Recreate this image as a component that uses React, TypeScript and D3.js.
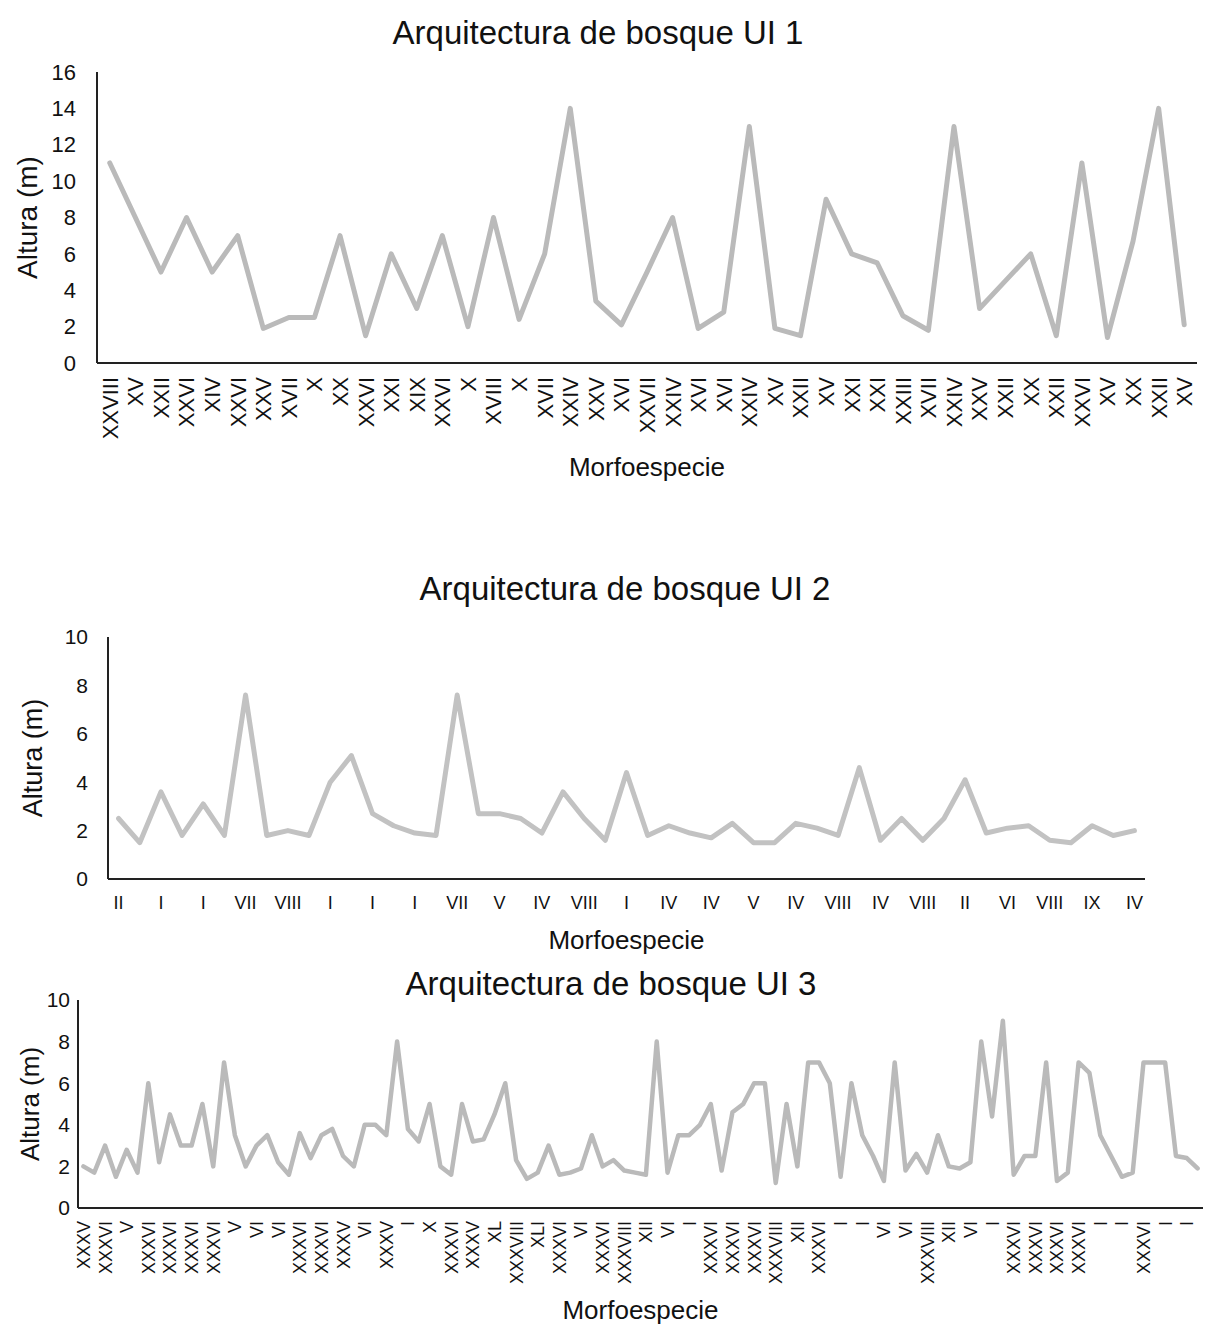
import React from "react";
import { scaleBand, scaleLinear, line, range } from "d3";

// UI 1 – one label per point
const ui1Labels = [
  "XXVIII", "XV", "XXII", "XXVI", "XIV", "XXVI", "XXV", "XVII", "X", "XX",
  "XXVI", "XXI", "XIX", "XXVI", "X", "XVIII", "X", "XVII", "XXIV", "XXV",
  "XVI", "XXVII", "XXIV", "XVI", "XVI", "XXIV", "XV", "XXII", "XV", "XXI",
  "XXI", "XXIII", "XVII", "XXIV", "XXV", "XXII", "XX", "XXII", "XXVI", "XV",
  "XX", "XXII", "XV",
];
const ui1Values = [
  11, 8, 5, 8, 5, 7, 1.9, 2.5, 2.5, 7,
  1.5, 6, 3, 7, 2, 8, 2.4, 6, 14, 3.4,
  2.1, 5, 8, 1.9, 2.8, 13, 1.9, 1.5, 9, 6,
  5.5, 2.6, 1.8, 13, 3, 4.5, 6, 1.5, 11, 1.4,
  6.7, 14, 2.1,
];
const ui1Ticks = [0, 2, 4, 6, 8, 10, 12, 14, 16];

// UI 2 – labels shown on every second point
const ui2Labels = [
  "II", "I", "I", "VII", "VIII", "I", "I", "I", "VII", "V",
  "IV", "VIII", "I", "IV", "IV", "V", "IV", "VIII", "IV", "VIII",
  "II", "VI", "VIII", "IX", "IV",
];
const ui2Values = [
  2.5, 1.5, 3.6, 1.8, 3.1, 1.8, 7.6, 1.8, 2.0, 1.8,
  4.0, 5.1, 2.7, 2.2, 1.9, 1.8, 7.6, 2.7, 2.7, 2.5,
  1.9, 3.6, 2.5, 1.6, 4.4, 1.8, 2.2, 1.9, 1.7, 2.3,
  1.5, 1.5, 2.3, 2.1, 1.8, 4.6, 1.6, 2.5, 1.6, 2.5,
  4.1, 1.9, 2.1, 2.2, 1.6, 1.5, 2.2, 1.8, 2.0,
];
const ui2Ticks = [0, 2, 4, 6, 8, 10];

// UI 3 – labels shown on every second point
const ui3Labels = [
  "XXXV", "XXXVI", "V", "XXXVI", "XXXVI", "XXXVI", "XXXVI", "V", "VI", "VI",
  "XXXVI", "XXXVI", "XXXV", "VI", "XXXV", "I", "X", "XXXVI", "XXXV", "XL",
  "XXXVIII", "XLI", "XXXVI", "VI", "XXXVI", "XXXVIII", "XII", "VI", "I", "XXXVI",
  "XXXVI", "XXXVI", "XXXVIII", "XII", "XXXVI", "I", "I", "VI", "VI", "XXXVIII",
  "XII", "VI", "I", "XXXVI", "XXXVI", "XXXVI", "XXXVI", "I", "I", "XXXVI",
  "I", "I",
];
const ui3Values = [
  2.0, 1.7, 3.0, 1.5, 2.8, 1.7, 6.0, 2.2, 4.5, 3.0,
  3.0, 5.0, 2.0, 7.0, 3.5, 2.0, 3.0, 3.5, 2.2, 1.6,
  3.6, 2.4, 3.5, 3.8, 2.5, 2.0, 4.0, 4.0, 3.5, 8.0,
  3.8, 3.2, 5.0, 2.0, 1.6, 5.0, 3.2, 3.3, 4.5, 6.0,
  2.3, 1.4, 1.7, 3.0, 1.6, 1.7, 1.9, 3.5, 2.0, 2.3,
  1.8, 1.7, 1.6, 8.0, 1.7, 3.5, 3.5, 4.0, 5.0, 1.8,
  4.6, 5.0, 6.0, 6.0, 1.2, 5.0, 2.0, 7.0, 7.0, 6.0,
  1.5, 6.0, 3.5, 2.5, 1.3, 7.0, 1.8, 2.6, 1.7, 3.5,
  2.0, 1.9, 2.2, 8.0, 4.4, 9.0, 1.6, 2.5, 2.5, 7.0,
  1.3, 1.7, 7.0, 6.5, 3.5, 2.5, 1.5, 1.7, 7.0, 7.0,
  7.0, 2.5, 2.4, 1.9,
];
const ui3Ticks = [0, 2, 4, 6, 8, 10];

const FONT = "'Liberation Sans', Arial, Helvetica, sans-serif";
const TEXT = "#111";
const AXIS = "#222";

function LineChart({
  title, values, labels, labelEvery, ticks,
  x0, x1, yTop, yBottom, titleX, titleY,
  tickRight, yTitleX, xTitleY, labelY, rotate,
  labelSize, tickSize, yTitleSize, strokeW, stroke,
}) {
  const xScale = scaleBand()
    .domain(range(values.length).map(String))
    .range([x0, x1]);
  const yScale = scaleLinear()
    .domain([0, ticks[ticks.length - 1]])
    .range([yBottom, yTop]);
  const cx = (i) => xScale(String(i)) + xScale.bandwidth() / 2;

  const path = line()
    .x((d, i) => cx(i))
    .y((d) => yScale(d))(values);

  return (
    <g fontFamily={FONT} fill={TEXT}>
      <text x={titleX} y={titleY} dy="0.35em" textAnchor="middle" fontSize={33}>
        {title}
      </text>

      {/* y tick labels */}
      {ticks.map((t) => (
        <text
          key={t}
          x={tickRight}
          y={yScale(t)}
          dy="0.35em"
          textAnchor="end"
          fontSize={tickSize}
        >
          {t}
        </text>
      ))}

      {/* axis title */}
      <text
        transform={`translate(${yTitleX},${(yTop + yBottom) / 2}) rotate(-90)`}
        dy="0.35em"
        textAnchor="middle"
        fontSize={yTitleSize}
      >
        Altura (m)
      </text>

      {/* category labels */}
      {labels.map((lab, j) => {
        const x = cx(j * labelEvery);
        return rotate ? (
          <text
            key={j}
            transform={`translate(${x},${labelY}) rotate(-90)`}
            dy="0.36em"
            textAnchor="end"
            fontSize={labelSize}
          >
            {lab}
          </text>
        ) : (
          <text key={j} x={x} y={labelY} dy="0.35em" textAnchor="middle" fontSize={labelSize}>
            {lab}
          </text>
        );
      })}

      <text x={(x0 + x1) / 2} y={xTitleY} dy="0.35em" textAnchor="middle" fontSize={26}>
        Morfoespecie
      </text>

      <path
        d={path}
        fill="none"
        stroke={stroke}
        strokeWidth={strokeW}
        strokeLinejoin="round"
        strokeLinecap="round"
      />

      {/* axes */}
      <line x1={x0} x2={x0} y1={yTop} y2={yBottom} stroke={AXIS} strokeWidth={2} />
      <line x1={x0} x2={x1} y1={yBottom} y2={yBottom} stroke={AXIS} strokeWidth={2} />
    </g>
  );
}

export default function App() {
  return (
    <svg
      width={1212}
      height={1324}
      style={{ position: "absolute", left: 0, top: 0, background: "#fff" }}
    >
      <rect width={1212} height={1324} fill="#fff" />
      <LineChart
        title="Arquitectura de bosque UI 1"
        values={ui1Values}
        labels={ui1Labels}
        labelEvery={1}
        ticks={ui1Ticks}
        x0={97} x1={1197} yTop={72} yBottom={363}
        titleX={598} titleY={32}
        tickRight={76} yTitleX={27} xTitleY={467} labelY={377}
        rotate labelSize={22} tickSize={22} yTitleSize={28}
        strokeW={5} stroke="#bababa"
      />
      <LineChart
        title="Arquitectura de bosque UI 2"
        values={ui2Values}
        labels={ui2Labels}
        labelEvery={2}
        ticks={ui2Ticks}
        x0={108} x1={1145} yTop={637} yBottom={879}
        titleX={625} titleY={588}
        tickRight={88} yTitleX={33} xTitleY={940} labelY={903}
        rotate={false} labelSize={18} tickSize={21} yTitleSize={27}
        strokeW={5} stroke="#c2c2c2"
      />
      <LineChart
        title="Arquitectura de bosque UI 3"
        values={ui3Values}
        labels={ui3Labels}
        labelEvery={2}
        ticks={ui3Ticks}
        x0={78} x1={1203} yTop={1000} yBottom={1208}
        titleX={611} titleY={983}
        tickRight={70} yTitleX={30} xTitleY={1310} labelY={1221}
        rotate labelSize={18} tickSize={21} yTitleSize={26}
        strokeW={4.5} stroke="#bababa"
      />
    </svg>
  );
}
